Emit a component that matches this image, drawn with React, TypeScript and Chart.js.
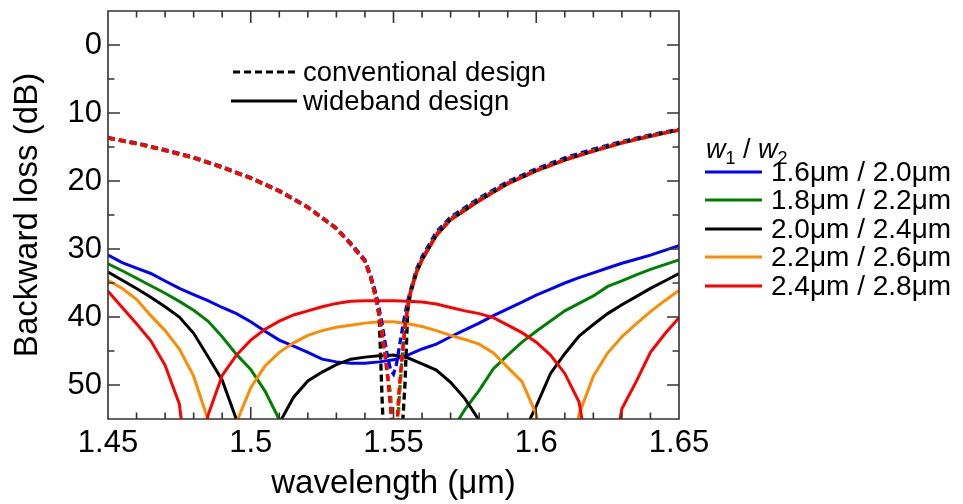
import React, { useEffect, useRef } from "react";
import { Chart, registerables } from "chart.js";

Chart.register(...registerables);

// ---- data ----
const wavelengthWide = [
  1.45, 1.455, 1.46, 1.465, 1.47, 1.475, 1.48, 1.485, 1.49, 1.495, 1.5, 1.505, 1.51, 1.515, 1.52, 1.525, 1.53,
  1.535, 1.54, 1.545, 1.55, 1.555, 1.56, 1.565, 1.57, 1.575, 1.58, 1.585, 1.59, 1.595, 1.6, 1.605, 1.61, 1.615,
  1.62, 1.625, 1.63, 1.635, 1.64, 1.645, 1.65,
];
const wideBlue = [
  30.9, 32.0, 32.8, 33.6, 34.7, 35.8, 36.7, 37.6, 38.6, 39.5, 40.7, 42.1, 43.4, 44.3, 45.2, 46.2, 46.6, 46.8, 46.8,
  46.6, 46.3, 45.6, 44.7, 44.0, 42.9, 41.9, 40.9, 39.8, 38.8, 37.8, 36.8, 35.9, 35.0, 34.2, 33.5, 32.8, 32.1, 31.5,
  30.9, 30.2, 29.5,
];
const wideGreen = [
  32.2, 33.2, 34.3, 35.4, 36.5, 37.7, 39.0, 40.6, 42.9, 45.5, 47.7, 50.9, 55.1, 64, 68, 70, 70, 70, 70, 70, 70, 70,
  68, 62, 57.0, 53.6, 50.8, 47.6, 45.6, 43.7, 42.1, 40.6, 39.1, 38.0, 36.9, 35.5, 34.7, 33.8, 33.0, 32.3, 31.6,
];
const wideBlack = [
  33.4, 34.6, 35.8, 37.1, 38.5, 40.0, 42.4, 45.8, 49.3, 55.1, 65, 65, 55.6, 51.8, 49.4, 48.1, 47.0, 46.2, 45.9,
  45.7, 45.6, 46.0, 46.9, 47.8, 49.6, 52.0, 55.2, 65, 65, 57.5, 53.1, 48.3, 45.4, 42.8, 41.1, 39.5, 38.2, 37.0,
  35.8, 34.7, 33.6,
];
const wideOrange = [
  34.6, 35.8, 37.4, 39.8, 42.0, 44.7, 48.7, 55.1, 65, 55.5, 50.4, 47.2, 45.2, 43.8, 42.7, 42.0, 41.5, 41.2, 40.9,
  40.7, 40.7, 41.0, 41.4, 42.0, 42.7, 43.3, 44.0, 45.3, 47.4, 49.5, 54.3, 65, 65, 54.3, 48.7, 45.3, 42.9, 41.0,
  39.2, 37.6, 36.1,
];
const wideRed = [
  36.2, 38.6, 41.0, 43.5, 47.1, 52.8, 70, 54.5, 48.6, 45.6, 43.4, 41.8, 40.6, 39.7, 39.1, 38.5, 38.0, 37.7, 37.6,
  37.6, 37.6, 37.7, 37.8, 38.1, 38.6, 39.1, 39.5, 40.1, 41.2, 42.3, 43.7, 45.6, 48.3, 52.5, 65, 65, 53.5, 49.5,
  45.2, 42.5, 40.1,
];

const wavelengthConv = [
  1.45, 1.46, 1.47, 1.48, 1.49, 1.5, 1.51, 1.52, 1.53, 1.535, 1.54, 1.542, 1.544, 1.545, 1.546, 1.547, 1.548, 1.549,
  1.55, 1.551, 1.552, 1.553, 1.554, 1.555, 1.556, 1.558, 1.56, 1.565, 1.57, 1.58, 1.59, 1.6, 1.61, 1.62, 1.63, 1.64,
  1.65,
];
const convBlue = [
  13.6, 14.4, 15.4, 16.5, 17.9, 19.5, 21.4, 23.8, 26.9, 29.1, 31.6, 33.8, 36.8, 38.8, 41.0, 43.6, 46.0, 47.8, 48.4,
  47.0, 44.5, 42.0, 39.6, 37.6, 36.0, 33.0, 31.1, 27.5, 25.3, 22.5, 20.1, 18.2, 16.6, 15.3, 14.2, 13.2, 12.4,
];
const convGreen = [
  13.7, 14.5, 15.5, 16.6, 18.0, 19.6, 21.5, 23.9, 27.0, 29.3, 31.8, 34.2, 37.5, 39.8, 42.4, 45.5, 48.6, 51.5, 60,
  60, 52.0, 46.0, 41.3, 38.3, 36.1, 33.3, 31.4, 27.8, 25.5, 22.7, 20.3, 18.4, 16.8, 15.5, 14.3, 13.3, 12.5,
];
const convBlack = [
  13.7, 14.5, 15.5, 16.6, 18.0, 19.6, 21.5, 23.9, 27.0, 29.3, 31.8, 34.2, 37.5, 40.0, 52.0, 62, 65, 65, 65, 65, 62,
  57, 50, 39.0, 36.5, 33.6, 31.6, 28.0, 25.7, 22.9, 20.4, 18.5, 16.9, 15.6, 14.4, 13.4, 12.5,
];
const convOrange = [
  13.7, 14.5, 15.5, 16.6, 18.0, 19.6, 21.5, 23.9, 27.0, 29.3, 31.8, 34.2, 37.5, 39.8, 42.4, 45.5, 49.0, 53.2, 62,
  58, 51.0, 46.2, 41.6, 38.6, 36.4, 33.5, 31.6, 28.0, 25.7, 22.9, 20.4, 18.5, 16.9, 15.6, 14.4, 13.4, 12.5,
];
const convRed = [
  13.7, 14.5, 15.5, 16.6, 18.0, 19.6, 21.5, 23.9, 27.0, 29.3, 31.8, 34.2, 37.5, 39.8, 42.4, 45.5, 49.0, 53.5, 62,
  57, 50.5, 46.0, 41.5, 38.5, 36.3, 33.5, 31.6, 28.0, 25.7, 22.9, 20.4, 18.5, 16.9, 15.6, 14.4, 13.4, 12.5,
];

const seriesNames = ["1.6\u03bcm / 2.0\u03bcm", "1.8\u03bcm / 2.2\u03bcm", "2.0\u03bcm / 2.4\u03bcm", "2.2\u03bcm / 2.6\u03bcm", "2.4\u03bcm / 2.8\u03bcm"];
const seriesColors = ["#0000ff", "#008000", "#000000", "#ff8c00", "#ff0000"];
const wideSeries = [wideBlue, wideGreen, wideBlack, wideOrange, wideRed];
const convSeries = [convBlue, convGreen, convBlack, convOrange, convRed];

const xTickValues = [1.45, 1.5, 1.55, 1.6, 1.65];
const xTickLabels = ["1.45", "1.5", "1.55", "1.6", "1.65"];
const xMinorTicks = [1.46, 1.47, 1.48, 1.49, 1.51, 1.52, 1.53, 1.54, 1.56, 1.57, 1.58, 1.59, 1.61, 1.62, 1.63, 1.64];
const yTickValues = [0, 10, 20, 30, 40, 50];
const yTickLabels = ["0", "10", "20", "30", "40", "50"];
const yMinorTicks = [-5, 5, 15, 25, 35, 45];

const FONT = '"Liberation Sans", Arial, sans-serif';
const FRAME = "#333333";

const framePlugin = {
  id: "frameTicks",
  afterDatasetsDraw(chart: any) {
    const { ctx, chartArea: a, scales } = chart;
    const x = scales.x;
    const y = scales.y;
    ctx.save();
    ctx.strokeStyle = FRAME;
    ctx.lineWidth = 1.6;
    ctx.beginPath();
    ctx.rect(a.left, a.top, a.right - a.left, a.bottom - a.top);
    const xt = (v: number, len: number) => {
      const p = x.getPixelForValue(v);
      ctx.moveTo(p, a.bottom);
      ctx.lineTo(p, a.bottom - len);
      ctx.moveTo(p, a.top);
      ctx.lineTo(p, a.top + len);
    };
    const yt = (v: number, len: number) => {
      const p = y.getPixelForValue(v);
      ctx.moveTo(a.left, p);
      ctx.lineTo(a.left + len, p);
      ctx.moveTo(a.right, p);
      ctx.lineTo(a.right - len, p);
    };
    xTickValues.forEach((v) => xt(v, 12));
    xMinorTicks.forEach((v) => xt(v, 6.5));
    yTickValues.forEach((v) => yt(v, 12));
    yMinorTicks.forEach((v) => yt(v, 6.5));
    ctx.stroke();
    ctx.restore();
  },
};

function LineSample({ color, dashed, width }: { color: string; dashed?: boolean; width: number }) {
  return (
    <svg width={width} height={6} style={{ display: "block" }}>
      <line
        x1={0}
        y1={3}
        x2={width}
        y2={3}
        stroke={color}
        strokeWidth={3}
        strokeDasharray={dashed ? "7 4" : undefined}
      />
    </svg>
  );
}

export default function App() {
  const ref = useRef<HTMLCanvasElement | null>(null);

  useEffect(() => {
    if (!ref.current) return;
    const datasets: any[] = [];
    wideSeries.forEach((vals, i) => {
      datasets.push({
        label: seriesNames[i] + " (wideband)",
        data: wavelengthWide.map((w, k) => ({ x: w, y: vals[k] })),
        borderColor: seriesColors[i],
        borderWidth: 3,
        pointRadius: 0,
        tension: 0,
        fill: false,
        clip: 0,
        order: 6 + (4 - i),
      });
    });
    convSeries.forEach((vals, i) => {
      datasets.push({
        label: seriesNames[i] + " (conventional)",
        data: wavelengthConv.map((w, k) => ({ x: w, y: vals[k] })),
        borderColor: seriesColors[i],
        borderWidth: 3.3,
        borderDash: [7, 4],
        pointRadius: 0,
        tension: 0,
        fill: false,
        clip: 0,
        order: 5 - i,
      });
    });

    const chart = new Chart(ref.current, {
      type: "line",
      data: { datasets },
      options: {
        animation: false,
        responsive: false,
        events: [],
        layout: { padding: { left: 0, right: 284, top: 11, bottom: 0 } },
        plugins: { legend: { display: false }, tooltip: { enabled: false } },
        scales: {
          x: {
            type: "linear",
            min: 1.45,
            max: 1.65,
            afterBuildTicks: (s: any) => {
              s.ticks = xTickValues.map((v) => ({ value: v }));
            },
            afterFit: (s: any) => {
              s.height = 85;
              s.paddingLeft = 0;
              s.paddingRight = 0;
            },
            grid: { display: false, drawTicks: false },
            border: { display: false },
            ticks: {
              autoSkip: false,
              maxRotation: 0,
              padding: 6,
              color: "#000",
              font: { family: FONT, size: 31 },
              callback: (_v: any, i: number) => xTickLabels[i],
            },
            title: {
              display: true,
              text: "wavelength (\u03bcm)",
              color: "#000",
              font: { family: FONT, size: 33 },
              padding: { top: 0, bottom: 0 },
            },
          },
          y: {
            type: "linear",
            reverse: true,
            min: -5,
            max: 55,
            afterBuildTicks: (s: any) => {
              s.ticks = yTickValues.map((v) => ({ value: v }));
            },
            afterFit: (s: any) => {
              s.width = 108;
              s.paddingTop = 0;
              s.paddingBottom = 0;
            },
            grid: { display: false, drawTicks: false },
            border: { display: false },
            ticks: {
              autoSkip: false,
              padding: 6,
              color: "#000",
              font: { family: FONT, size: 31 },
              callback: (_v: any, i: number) => yTickLabels[i],
            },
            title: {
              display: true,
              text: "Backward loss (dB)",
              color: "#000",
              font: { family: FONT, size: 33 },
              padding: { top: 8, bottom: 0 },
            },
          },
        },
      },
      plugins: [framePlugin],
    });
    return () => chart.destroy();
  }, []);

  const legendFont: React.CSSProperties = { fontFamily: FONT, fontSize: 27.5, color: "#000", whiteSpace: "nowrap" };

  return (
    <div style={{ position: "fixed", left: 0, top: 0, width: 963, height: 504, background: "#fff", overflow: "hidden" }}>
      <canvas ref={ref} width={963} height={504} style={{ width: 963, height: 504, display: "block" }} />
      {/* design legend */}
      <div style={{ position: "absolute", left: 233, top: 57, height: 30, display: "flex", alignItems: "center", ...legendFont }}>
        <LineSample color="#000" dashed width={64} />
        <span style={{ marginLeft: 6, lineHeight: "30px" }}>conventional design</span>
      </div>
      <div style={{ position: "absolute", left: 231, top: 86, height: 30, display: "flex", alignItems: "center", ...legendFont }}>
        <LineSample color="#000" width={66} />
        <span style={{ marginLeft: 6, lineHeight: "30px" }}>wideband design</span>
      </div>
      {/* width legend */}
      <div style={{ position: "absolute", left: 706, top: 134, ...legendFont, fontSize: 27, lineHeight: "30px" }}>
        <i>w</i>
        <sub style={{ fontSize: 18 }}>1</sub> / <i>w</i>
        <sub style={{ fontSize: 18 }}>2</sub>
      </div>
      {seriesNames.map((name, i) => (
        <div
          key={name}
          style={{
            position: "absolute",
            left: 705,
            top: 158 + i * 28.4,
            height: 28,
            display: "flex",
            alignItems: "center",
            ...legendFont,
            fontSize: 28,
          }}
        >
          <LineSample color={seriesColors[i]} width={57} />
          <span style={{ marginLeft: 9, lineHeight: "28px" }}>{name}</span>
        </div>
      ))}
    </div>
  );
}
